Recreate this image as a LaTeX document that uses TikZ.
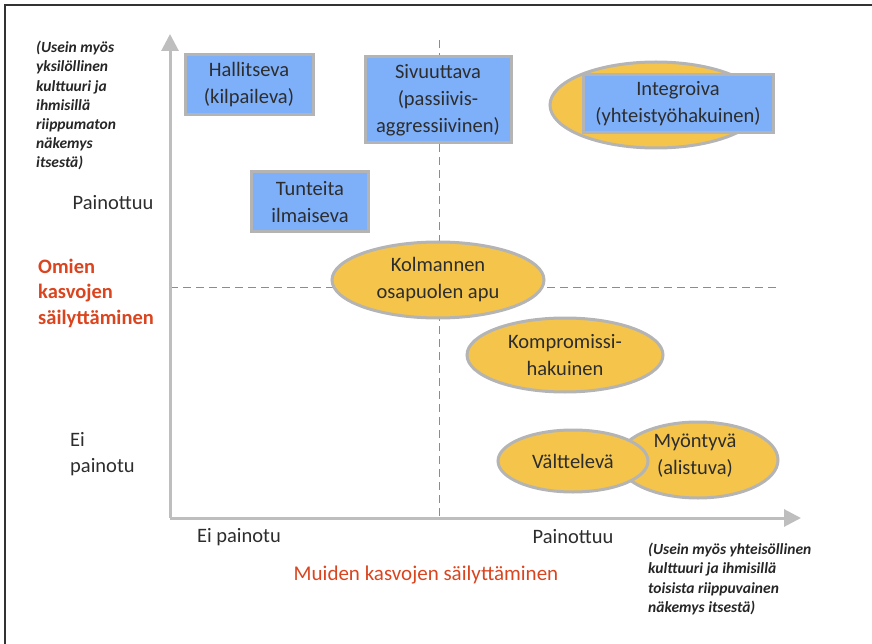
\documentclass[tikz,border=0pt]{standalone}
\usepackage{fontspec}
\setmainfont{Carlito}
\usetikzlibrary{arrows.meta,shapes.geometric}
\definecolor{boxblue}{RGB}{126,176,250}
\definecolor{goldfill}{RGB}{245,196,74}
\definecolor{edgegray}{RGB}{180,180,180}
\definecolor{axisgray}{RGB}{190,190,190}
\definecolor{titlered}{RGB}{218,68,30}
\definecolor{txt}{RGB}{45,45,45}
\tikzset{
  bluebox/.style={draw=edgegray, line width=3pt, fill=boxblue, inner sep=0pt, text=txt, align=center, font=\fontsize{20.5}{27}\selectfont},
  goldell/.style={ellipse, draw=edgegray, line width=3pt, fill=goldfill, inner sep=0pt, text=txt, align=center, font=\fontsize{20.5}{27}\selectfont},
  axislabel/.style={text=txt, font=\fontsize{20.5}{26}\selectfont, inner sep=0pt},
  redlabel/.style={text=titlered, font=\fontsize{21}{25.5}\selectfont, inner sep=0pt},
  note/.style={text=black!85, font=\fontsize{15.5}{19.2}\selectfont\bfseries\itshape, inner sep=0pt, align=left},
  dashline/.style={draw=black!45, line width=1pt, dash pattern=on 8pt off 5pt},
  axisline/.style={draw=axisgray, line width=3pt, -{Triangle[length=17pt,width=17pt]}}
}
\begin{document}
\begin{tikzpicture}[x=1pt,y=-1pt]
\useasboundingbox (0,0) rectangle (872,644);
% frame
\draw[black!80, line width=2pt] (5,644) -- (5,5) -- (872,5);
% coordinates
\coordinate (o) at (170,518);
\coordinate (ytop) at (170,34);
\coordinate (xend) at (801,518);
\coordinate (vdtop) at (439,40);
\coordinate (vdbot) at (439,518);
\coordinate (hdl) at (170,287);
\coordinate (hdr) at (780,287);
% dashed quadrant lines
\draw[dashline] (vdtop) -- (vdbot);
\draw[dashline] (hdl) -- (hdr);
% axes
\draw[axisline] (o) -- (ytop);
\draw[axisline] (o) -- (xend);
% boxes
\node[bluebox, minimum width=128pt, minimum height=60pt] (hall) at (249,85) {Hallitseva\\(kilpaileva)};
\node[bluebox, minimum width=146pt, minimum height=86pt] (sivu) at (438,100) {Sivuuttava\\(passiivis-\\aggressiivinen)};
\node[bluebox, minimum width=117pt, minimum height=60pt] (tunt) at (310,202) {Tunteita\\ilmaiseva};
\node[goldell, minimum width=212pt, minimum height=86pt] (inte) at (656,105) {};
\node[bluebox, minimum width=190pt, minimum height=58pt] (intebox) at (678,104) {Integroiva\\(yhteistyöhakuinen)};
% ellipses
\node[goldell, minimum width=212pt, minimum height=76pt] (kolm) at (438,280) {Kolmannen\\osapuolen apu};
\node[goldell, minimum width=196pt, minimum height=74pt] (komp) at (565,355) {Kompromissi-\\hakuinen};
\node[goldell, minimum width=160pt, minimum height=76pt] (myon) at (698,460) {};
\node[text=txt, align=center, font=\fontsize{20.5}{27}\selectfont, inner sep=0pt] (myont) at (695,456) {Myöntyvä\\(alistuva)};
\node[goldell, minimum width=150pt, minimum height=62pt] (valt) at (573,461) {Välttelevä};
% axis labels
\node[axislabel] (painy) at (113,203) {Painottuu};
\node[axislabel, align=left, anchor=west] (eiy) at (70,454) {Ei\\painotu};
\node[axislabel] (eix) at (239,537) {Ei painotu};
\node[axislabel] (painx) at (573,537) {Painottuu};
\node[redlabel, align=left, anchor=west, font=\fontsize{20.5}{25.5}\selectfont\bfseries] (omien) at (38,293) {Omien\\kasvojen\\säilyttäminen};
\node[redlabel] (muiden) at (426,575) {Muiden kasvojen säilyttäminen};
% notes
\node[note, anchor=north west] (note1) at (36,41) {(Usein myös\\yksilöllinen\\kulttuuri ja\\ihmisillä\\riippumaton\\näkemys\\itsestä)};
\node[note, anchor=north west] (note2) at (648,543) {(Usein myös yhteisöllinen\\kulttuuri ja ihmisillä\\toisista riippuvainen\\näkemys itsestä)};
\end{tikzpicture}
\end{document}
